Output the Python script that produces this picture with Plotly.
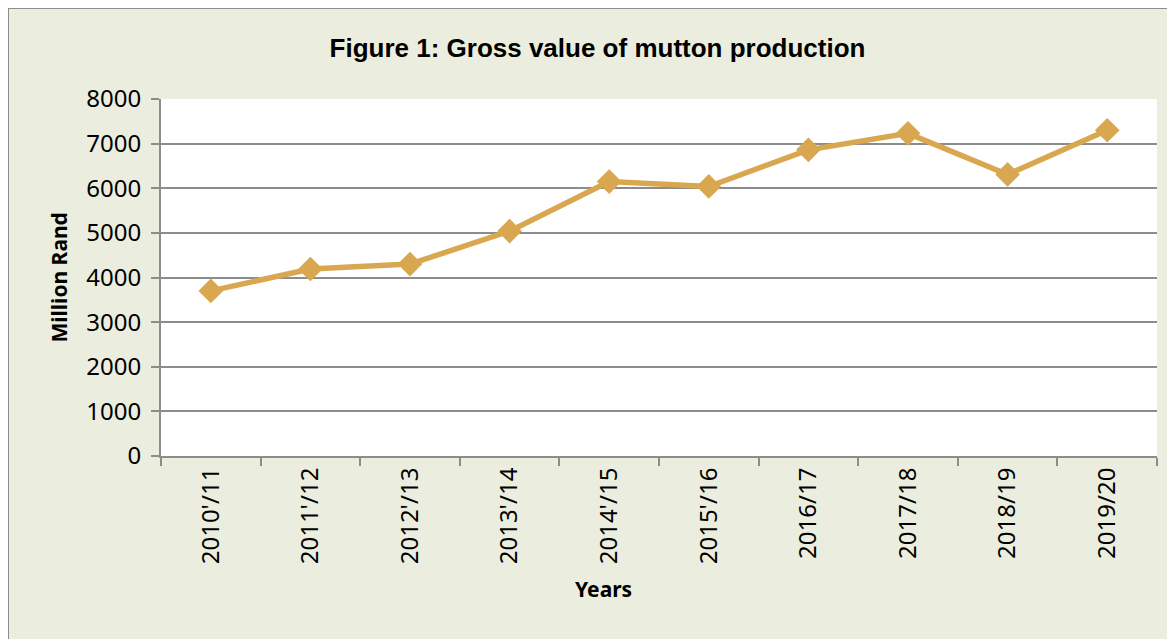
import plotly.graph_objects as go

# Gross value of mutton production (million Rand)
years = ["2010'/11", "2011'/12", "2012'/13", "2013'/14", "2014'/15",
         "2015'/16", "2016/17", "2017/18", "2018/19", "2019/20"]
gross_value = [3700, 4190, 4300, 5040, 6150, 6040, 6860, 7230, 6310, 7300]

y_ticks = [0, 1000, 2000, 3000, 4000, 5000, 6000, 7000, 8000]

# the page body adds an 8px offset, so figure pixels = screen pixels - 8
W, H = 1167, 631
L, R, T, B = 153, 18, 91, 183
pw, ph = W - L - R, H - T - B

def px_x(p):
    return (p - L) / pw

def px_y(p):
    return (H - B - p) / ph

gold = "#D9A74F"
grey = "#8C8C8C"
txt_font = "Noto Sans, Open Sans, Liberation Sans"

fig = go.Figure()
fig.add_trace(go.Scatter(
    x=years, y=gross_value, mode="lines+markers",
    line=dict(color=gold, width=5.5),
    marker=dict(symbol="diamond", size=19, color=gold),
    showlegend=False,
))

# grey frame round the chart area
fig.add_shape(type="rect", xref="paper", yref="paper",
              x0=px_x(0), x1=px_x(W + 20), y0=px_y(0), y1=px_y(H + 20),
              line=dict(color=grey, width=2), layer="below")

fig.add_annotation(text="<b>Years</b>", xref="paper", yref="paper",
                   x=px_x(595), y=px_y(581), xanchor="center", yanchor="middle",
                   showarrow=False, font=dict(family=txt_font, size=21))
fig.add_annotation(text="<b>Million Rand</b>", xref="paper", yref="paper",
                   x=px_x(50), y=0.5, xanchor="center", yanchor="middle",
                   textangle=-90, showarrow=False,
                   font=dict(family=txt_font, size=21))

fig.update_layout(
    width=W, height=H, autosize=False,
    margin=dict(l=L, r=R, t=T, b=B),
    paper_bgcolor="#EBEEDE",
    plot_bgcolor="white",
    title=dict(text="<b>Figure 1: Gross value of mutton production</b>",
               x=589.5 / W, xref="container", xanchor="center",
               y=1 - 40 / H, yref="container", yanchor="middle",
               font=dict(family="Liberation Sans Narrow, Arial Narrow, Liberation Sans",
                         size=26, color="black")),
    font=dict(family=txt_font, color="black"),
)

fig.update_xaxes(
    type="category", tickangle=-90, tickson="boundaries",
    ticks="outside", ticklen=8, tickcolor=grey, tickwidth=2,
    showline=True, linecolor=grey, linewidth=2, showgrid=False,
    tickfont=dict(size=24, family=txt_font),
    range=[-0.5, len(years) - 0.5],
)
fig.update_yaxes(
    range=[0, 8000], tickvals=y_ticks,
    ticks="outside", ticklen=8, tickcolor=grey, tickwidth=2,
    showline=True, linecolor=grey, linewidth=2,
    showgrid=True, gridcolor=grey, gridwidth=2, zeroline=False,
    tickfont=dict(size=24, family=txt_font), ticklabelstandoff=5,
)

fig.write_html("out.html")
